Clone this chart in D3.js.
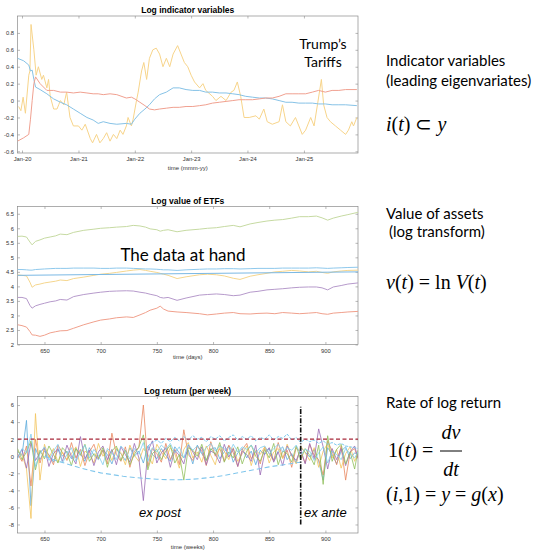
<!DOCTYPE html>
<meta charset="utf-8">
<script src="https://d3js.org/d3.v7.min.js"></script>
<style>
  body { margin: 0; background: #fff; }
</style>
<div id="fig"></div>
<script>

// ---------- data: log indicator variables (decimal years) ----------
const yellowYears = [2019.94, 2019.98, 2020.02, 2020.06, 2020.12, 2020.14, 2020.16, 2020.21, 2020.25, 2020.29,
  2020.35, 2020.38, 2020.44, 2020.47, 2020.50, 2020.56, 2020.62, 2020.65, 2020.68, 2020.74,
  2020.79, 2020.85, 2020.91, 2021.00, 2021.06, 2021.12, 2021.21, 2021.25, 2021.32, 2021.38,
  2021.44, 2021.50, 2021.56, 2021.62, 2021.68, 2021.74, 2021.79, 2021.85, 2021.88, 2021.94,
  2021.97, 2022.03, 2022.06, 2022.12, 2022.16, 2022.21, 2022.26, 2022.32, 2022.38, 2022.44,
  2022.50, 2022.56, 2022.62, 2022.68, 2022.76, 2022.82, 2022.88, 2022.94, 2023.00, 2023.06,
  2023.15, 2023.21, 2023.26, 2023.38, 2023.44, 2023.53, 2023.62, 2023.71, 2023.76, 2023.82,
  2023.88, 2023.94, 2024.03, 2024.15, 2024.21, 2024.29, 2024.35, 2024.44, 2024.56, 2024.62,
  2024.68, 2024.76, 2024.85, 2024.91, 2024.97, 2025.03, 2025.12, 2025.18, 2025.24, 2025.31,
  2025.35, 2025.41, 2025.47, 2025.56, 2025.65, 2025.74, 2025.79, 2025.85, 2025.88, 2025.94]
const indicatorYellow = [-0.07, -0.12, 0.04, -0.15, 0.30, 0.35, 0.90, 0.60, 0.30, 0.40,
  0.25, 0.30, 0.15, 0.25, 0.05, -0.10, -0.10, -0.05, 0.00, -0.05,
  0.10, -0.20, -0.30, -0.30, -0.35, -0.28, -0.45, -0.50, -0.40, -0.50,
  -0.45, -0.38, -0.48, -0.40, -0.45, -0.35, -0.40, -0.30, -0.20, -0.30,
  -0.22, 0.00, 0.10, 0.35, 0.45, 0.25, 0.50, 0.60, 0.62, 0.55,
  0.40, 0.50, 0.40, 0.55, 0.65, 0.55, 0.45, 0.40, 0.30, 0.22,
  0.15, 0.20, 0.12, 0.05, 0.00, 0.05, 0.00, 0.10, 0.12, 0.22,
  0.05, -0.20, -0.20, -0.18, -0.22, -0.10, -0.25, -0.28, -0.25, -0.05,
  -0.25, -0.30, -0.20, -0.30, -0.40, -0.35, -0.20, -0.30, -0.05, 0.25,
  -0.05, -0.20, -0.25, -0.30, -0.35, -0.40, -0.35, -0.25, -0.30, -0.20]

const indicatorYears = [2019.92, 2020.03, 2020.12, 2020.15, 2020.18, 2020.21, 2020.24, 2020.32, 2020.44, 2020.56,
  2020.68, 2020.79, 2020.91, 2021.03, 2021.15, 2021.26, 2021.35, 2021.44, 2021.56, 2021.68,
  2021.85, 2021.94, 2022.00, 2022.09, 2022.18, 2022.26, 2022.35, 2022.44, 2022.56, 2022.68,
  2022.79, 2022.91, 2023.03, 2023.15, 2023.26, 2023.38, 2023.50, 2023.62, 2023.74, 2023.85,
  2023.97, 2024.09, 2024.21, 2024.32, 2024.44, 2024.56, 2024.68, 2024.79, 2024.91, 2025.03,
  2025.15, 2025.26, 2025.38, 2025.50, 2025.62, 2025.74, 2025.94]
const indicatorBlue = [0.50, 0.47, 0.42, 0.35, 0.36, 0.25, 0.16, 0.13, 0.08, 0.02,
  -0.02, -0.05, -0.10, -0.15, -0.20, -0.23, -0.27, -0.25, -0.27, -0.28,
  -0.27, -0.28, -0.22, -0.15, -0.10, -0.05, 0.02, 0.07, 0.10, 0.15,
  0.15, 0.13, 0.12, 0.12, 0.10, 0.10, 0.09, 0.09, 0.08, 0.07,
  0.05, 0.04, 0.03, 0.03, 0.02, 0.00, -0.02, -0.02, -0.03, -0.03,
  -0.03, -0.04, -0.04, -0.05, -0.05, -0.05, -0.06]
const indicatorRed = [-0.48, -0.44, -0.40, -0.22, 0.00, 0.20, 0.28, 0.20, 0.12, 0.12,
  0.10, 0.10, 0.09, 0.10, 0.09, 0.08, 0.08, 0.07, 0.08, 0.07,
  0.03, 0.04, 0.02, -0.02, -0.06, -0.10, -0.11, -0.10, -0.09, -0.08,
  -0.08, -0.07, -0.07, -0.06, -0.05, -0.03, -0.02, -0.01, 0.00, 0.01,
  0.01, 0.01, 0.02, 0.03, 0.03, 0.05, 0.08, 0.08, 0.08, 0.08,
  0.10, 0.12, 0.10, 0.12, 0.12, 0.13, 0.13]

const indicatorTickYears = [2020, 2021, 2022, 2023, 2024, 2025]
const indicatorYTicks = [-0.6, -0.4, -0.2, 0, 0.2, 0.4, 0.6, 0.8]

// ---------- data: log value of ETFs (days) ----------
const etfDays = [626, 630, 634, 637, 639, 642, 646, 650, 655, 660, 664, 670, 676, 685, 694, 700, 708, 714, 723, 729,
  735, 740, 744, 750, 753, 756, 760, 768, 776, 788, 795, 803, 810, 818, 824, 833, 840, 848, 855, 862,
  870, 877, 885, 892, 897, 902, 907, 914, 920, 929]
const etfGreen = [5.72, 5.73, 5.70, 5.53, 5.43, 5.55, 5.60, 5.66, 5.70, 5.74, 5.80, 5.78, 5.86, 5.93, 5.97, 6.00, 6.02, 6.04, 6.06, 6.10,
  6.08, 6.04, 5.98, 5.95, 5.90, 5.93, 5.95, 5.88, 5.93, 5.97, 6.00, 6.02, 6.06, 6.10, 6.05, 6.15, 6.20, 6.25, 6.28, 6.30,
  6.35, 6.40, 6.40, 6.42, 6.36, 6.28, 6.35, 6.42, 6.47, 6.55]
const etfYellow = [4.40, 4.38, 4.36, 4.15, 3.97, 4.05, 4.08, 4.12, 4.15, 4.18, 4.22, 4.20, 4.27, 4.32, 4.38, 4.42, 4.45, 4.48, 4.53, 4.56,
  4.58, 4.55, 4.52, 4.48, 4.45, 4.42, 4.38, 4.27, 4.33, 4.40, 4.42, 4.40, 4.36, 4.28, 4.24, 4.35, 4.40, 4.45, 4.50, 4.52,
  4.55, 4.53, 4.50, 4.52, 4.48, 4.45, 4.50, 4.53, 4.55, 4.56]
const etfBlue = [4.58, 4.58, 4.57, 4.56, 4.56, 4.58, 4.59, 4.60, 4.61, 4.62, 4.62, 4.62, 4.63, 4.63, 4.63, 4.62, 4.62, 4.63, 4.63, 4.62,
  4.61, 4.60, 4.60, 4.59, 4.58, 4.57, 4.57, 4.55, 4.57, 4.59, 4.60, 4.60, 4.61, 4.61, 4.60, 4.61, 4.62, 4.62, 4.62, 4.63,
  4.63, 4.63, 4.63, 4.64, 4.63, 4.62, 4.63, 4.64, 4.65, 4.66]
const etfPurple = [3.62, 3.62, 3.58, 3.35, 3.25, 3.33, 3.38, 3.42, 3.47, 3.50, 3.55, 3.53, 3.65, 3.72, 3.77, 3.80, 3.83, 3.84, 3.85, 3.84,
  3.80, 3.77, 3.73, 3.68, 3.62, 3.60, 3.62, 3.52, 3.60, 3.70, 3.72, 3.74, 3.72, 3.68, 3.70, 3.80, 3.83, 3.88, 3.90, 3.92,
  3.95, 3.97, 3.98, 3.98, 3.95, 3.88, 3.98, 4.03, 4.08, 4.12]
const etfRed = [2.68, 2.65, 2.60, 2.45, 2.33, 2.32, 2.28, 2.32, 2.40, 2.44, 2.47, 2.48, 2.56, 2.68, 2.78, 2.84, 2.88, 2.92, 2.95, 2.93,
  3.02, 3.10, 3.18, 3.25, 3.32, 3.22, 3.15, 3.12, 3.10, 3.06, 3.02, 3.05, 3.08, 3.10, 3.06, 3.05, 3.07, 3.08, 3.06, 3.10,
  3.08, 3.06, 3.08, 3.10, 3.06, 3.04, 3.08, 3.10, 3.12, 3.14]
const benchmarkDays = [626, 929]
const etfBenchmark = [4.38, 4.50]

const dayTicks = [650, 700, 750, 800, 850, 900]
const etfYTicks = [2, 2.5, 3, 3.5, 4, 4.5, 5, 5.5, 6, 6.5]

// ---------- data: log return per week ----------
const returnWeeks = [626, 630, 634, 638, 642, 646, 650, 654, 658, 662, 666,
  670, 674, 678, 682, 686, 690, 694, 698, 702, 706, 710,
  714, 718, 722, 726, 730, 734, 738, 742, 746, 750, 754,
  758, 762, 766, 770, 774, 778, 782, 786, 790, 794, 798,
  802, 806, 810, 814, 818, 822, 826, 830, 834, 838, 842,
  846, 850, 854, 858, 862, 866, 870, 874, 878, 882, 886,
  890, 894, 898, 902, 906, 910, 914, 918, 922, 926, 929]
const returnOrange = [0.3, -0.6, 1.2, -3.5, 2.0, -0.8, 0.9, 0.1, -1.0, 1.3, 0.4,
  -0.5, 1.6, -0.2, 0.8, -1.1, 0.5, 1.4, -0.3, 0.7, -0.9, 2.7,
  0.2, -0.6, 1.1, -1.3, 0.6, 1.0, 6.0, -1.2, 0.9, 0.3, -0.7,
  1.5, -0.4, 0.8, -1.0, 3.1, 0.2, -0.5, 1.2, 0.6, -1.1, 1.7,
  0.0, 0.9, -0.6, 1.3, 0.4, -1.2, 0.8, 1.5, -0.3, 0.6, -0.9,
  1.1, 0.3, -0.5, 1.6, -0.2, 0.7, -1.3, 1.0, 0.4, -0.8, 1.4,
  0.1, -0.4, -2.2, 1.8, 0.6, -1.0, 1.2, -2.8, 0.5, 0.9, -0.3]
const returnYellow = [0.6, 0.2, -1.5, -7.3, 5.0, -2.8, 1.4, -0.2, 0.9, -0.7, 0.5,
  -0.4, 0.3, 1.1, -1.2, 0.6, 0.2, -0.8, 1.5, 0.0, 0.7, -0.5,
  1.0, 0.4, -1.0, 1.3, 0.1, -0.6, 0.9, 0.2, -0.9, 1.4, 0.5,
  -0.3, 1.0, 0.3, -1.4, 0.8, 1.6, -0.2, 0.5, -0.7, 1.2, 0.1,
  -1.0, 1.3, 0.6, -0.4, 1.0, -0.6, 0.3, 1.2, -1.1, 0.7, 0.2,
  1.1, -0.8, 0.5, 0.9, -0.3, 1.4, 0.0, -0.9, 1.2, 0.4, -0.5,
  1.0, -1.3, 0.6, 1.5, -0.2, 0.8, -1.4, 0.3, 1.1, -0.6, 0.4]
const returnPurple = [-0.2, 0.8, -1.4, 1.6, -0.5, 0.4, 1.0, -1.2, 0.3, 0.9, -0.6,
  1.3, 0.0, -0.9, 2.3, -0.3, 0.7, -1.1, 0.5, 1.2, -0.4, 0.8,
  -1.0, 1.1, 0.2, -0.7, 1.5, -0.2, -5.2, 0.6, 1.8, -0.8, 0.4,
  1.0, -1.3, 0.7, 0.1, -0.9, 1.3, 0.5, -0.4, 1.1, -1.0, 0.6,
  0.3, -0.8, 1.4, -0.1, 0.9, -1.2, 0.6, 0.2, -0.6, 1.3, -2.2,
  0.4, 1.0, -0.7, 0.5, -1.1, 1.2, 0.1, -0.5, 0.8, -0.9, 1.5,
  -0.3, 3.2, 1.1, -1.5, 0.9, -0.4, 0.9, -1.1, 0.5, 1.2, -0.2]
const returnGreen = [0.9, -0.4, 0.5, 1.8, -1.6, 0.7, -0.3, 1.2, 0.2, -0.8, 1.0,
  0.4, -1.1, 0.9, 0.1, 1.4, -0.6, 0.3, -0.2, 1.0, -1.3, 0.6,
  1.2, -0.5, 0.7, -1.0, 0.2, 1.1, 2.5, -1.6, 0.3, 0.8, -0.4,
  0.6, 1.3, -0.8, 0.2, -2.8, 1.0, 0.7, 0.0, 1.4, -0.5, 0.9,
  0.2, 1.6, -0.7, 0.5, -0.2, 1.1, -0.9, 0.6, 1.3, 0.0, -0.6,
  0.8, -0.2, 1.5, -1.0, 0.6, 0.3, -0.7, 1.2, -0.4, 0.9, 0.1,
  -1.0, 1.3, -3.3, 2.4, -0.6, 0.8, 1.4, -0.9, 0.5, -1.5, 0.7]
const returnBlue = [0.5, 0.1, 4.2, -5.8, 0.9, -0.4, 0.6, 0.2, -0.7, 0.8, 0.0,
  0.6, -0.3, 0.9, 0.3, -0.6, 1.0, 0.1, -0.4, 0.7, 0.2, -0.9,
  0.8, 0.3, -0.5, 1.0, 0.0, 0.6, -0.8, 1.2, 0.2, -0.3, 0.9,
  0.1, -0.6, 1.1, 0.4, -0.2, 0.7, -0.9, 1.3, 0.3, -0.5, 0.8,
  1.0, -0.3, 0.5, 1.2, -0.7, 0.4, 0.9, -0.2, 0.6, -1.0, 0.7,
  0.2, 0.9, -0.5, 0.6, 1.1, -0.4, 0.3, -0.8, 1.0, 0.5, -0.1,
  0.8, -0.6, -2.8, 1.0, 0.2, -0.9, 0.6, 1.1, -0.3, 0.4, 0.2]
const returnCyan = [-0.3, 0.9, 0.4, 2.6, -1.2, 0.3, 1.1, -0.5, 0.6, 1.4, -0.8,
  0.2, 1.0, -0.6, 0.5, 1.3, -0.2, 0.8, 0.1, -1.0, 0.9, 0.4,
  -0.4, 1.2, 0.6, -0.3, 0.9, 0.3, 1.6, -0.6, 1.0, 0.5, 1.3,
  0.8, 1.5, 0.4, 1.1, -0.2, 1.4, 0.7, 1.2, 0.3, 1.0, 1.5,
  0.6, 1.2, 0.9, 0.2, 1.4, 0.5, 1.1, 0.8, 1.3, 0.4, 1.0,
  1.2, 0.3, 0.9, 1.4, 0.5, 1.0, 0.7, 1.3, 0.2, 0.8, 0.6,
  -0.5, 0.4, 1.1, -0.8, 0.6, 0.2, -0.4, 0.9, 0.3, -0.2, 0.5]

const upperWeeks = [742, 746, 750, 754, 758, 762, 766, 770, 774, 778, 782, 786, 790, 794, 798, 802,
  806, 810, 814, 818, 822, 826, 830, 834, 838, 842, 846, 850, 854, 858, 862, 866,
  870, 874, 878, 882, 886, 890, 894, 898, 902, 906, 910, 914, 918, 922, 926, 929]
const upperBound = [1.2, 1.6, 1.9, 1.5, 2.1, 1.7, 2.2, 1.8, 2.3, 1.9, 2.4, 2.0, 2.2, 1.7, 2.3, 2.0,
  2.4, 1.8, 2.2, 2.5, 1.9, 2.3, 2.0, 2.4, 1.8, 2.2, 2.0, 2.5, 1.9, 2.3, 2.1, 2.6,
  1.9, 2.2, 1.6, 2.0, 1.7, 1.9, 1.5, 1.8, 1.4, 1.6, 1.3, 1.5, 1.2, 1.1, 1.0, 0.9]
const lowerWeeks = [650, 660, 670, 680, 690, 700, 710, 720, 730, 740, 750, 760,
  770, 780, 790, 800, 810, 820, 830, 840, 850, 860, 870, 878]
const lowerBound = [0.0, -0.5, -0.9, -1.3, -1.65, -1.95, -2.15, -2.35, -2.5, -2.6, -2.7, -2.75,
  -2.75, -2.72, -2.6, -2.45, -2.25, -2.0, -1.75, -1.5, -1.25, -1.05, -0.85, -0.7]

const threshold = 2
const splitWeek = 878
const splitRange = [-8, 5.8]
const returnYTicks = [-8, -6, -4, -2, 0, 2, 4, 6]

// ---------- layout ----------
const W = 550, H = 559
const sans = "'Liberation Sans', Arial, sans-serif"
const body = "Lato, 'Open Sans', sans-serif"
const serif = "'Liberation Serif', 'Times New Roman', serif"

const svg = d3.select("#fig").append("svg")
    .attr("width", W)
    .attr("height", H)
    .style("background", "#fff")

function yearToDate(y) {
    const yr = Math.floor(y)
    const a = Date.UTC(yr, 0, 1), b = Date.UTC(yr + 1, 0, 1)
    return new Date(a + (y - yr) * (b - a))
}

var clipCount = 0

// one MATLAB-style axes box with inward ticks on all four sides
function panel(box, x, y, xTicks, xFmt, yTicks, title, xlabel, xlabelGap) {
    x.range([box.left, box.right])
    y.range([box.bottom, box.top])
    const g = svg.append("g")

    const id = "clip" + (clipCount++)
    svg.append("clipPath").attr("id", id)
      .append("rect")
        .attr("x", box.left).attr("y", box.top)
        .attr("width", box.right - box.left).attr("height", box.bottom - box.top)

    const style = a => a
        .call(s => s.select(".domain").remove())
        .call(s => s.selectAll("line").attr("stroke", "#8a8a8a").attr("stroke-width", 0.6))
        .call(s => s.selectAll("text").attr("fill", "#333").style("font", "5.8px " + sans))

    g.append("g").attr("transform", `translate(0,${box.bottom})`)
      .call(d3.axisBottom(x).tickValues(xTicks).tickFormat(xFmt).tickSize(-2.5).tickPadding(4))
      .call(style)
    g.append("g").attr("transform", `translate(0,${box.top})`)
      .call(d3.axisTop(x).tickValues(xTicks).tickFormat("").tickSize(-2.5))
      .call(style)
    g.append("g").attr("transform", `translate(${box.left},0)`)
      .call(d3.axisLeft(y).tickValues(yTicks).tickFormat(d => String(d)).tickSize(-2.5).tickPadding(3.5))
      .call(style)
    g.append("g").attr("transform", `translate(${box.right},0)`)
      .call(d3.axisRight(y).tickValues(yTicks).tickFormat("").tickSize(-2.5))
      .call(style)

    g.append("rect")
        .attr("x", box.left).attr("y", box.top)
        .attr("width", box.right - box.left).attr("height", box.bottom - box.top)
        .attr("fill", "none").attr("stroke", "#8a8a8a").attr("stroke-width", 0.7)

    svg.append("text")
        .attr("x", (box.left + box.right) / 2).attr("y", box.top - 3)
        .attr("text-anchor", "middle")
        .style("font", "bold 8.5px " + sans)
        .text(title)
    svg.append("text")
        .attr("x", (box.left + box.right) / 2).attr("y", box.bottom + xlabelGap)
        .attr("text-anchor", "middle")
        .attr("fill", "#333")
        .style("font", "6px " + sans)
        .text(xlabel)

    return svg.append("g").attr("clip-path", `url(#${id})`)
}

function addLine(layer, xs, ys, x, y, color, width, dash) {
    const pts = xs.map((d, i) => [d, ys[i]])
    layer.append("path")
        .datum(pts)
        .attr("fill", "none")
        .attr("stroke", color)
        .attr("stroke-width", width)
        .attr("stroke-linejoin", "round")
        .attr("stroke-dasharray", dash || null)
        .attr("d", d3.line().x(d => x(d[0])).y(d => y(d[1])))
}

// ---------- panel 1 ----------
const x1 = d3.scaleUtc().domain([yearToDate(2019.92), yearToDate(2025.96)])
const y1 = d3.scaleLinear().domain([-0.62, 1.0])
const L1 = panel({left: 17.5, right: 358, top: 16, bottom: 153}, x1, y1,
    indicatorTickYears.map(yearToDate), d3.utcFormat("%b-%y"), indicatorYTicks,
    "Log indicator variables", "time (mmm-yy)", 17)
const x1d = d => x1(yearToDate(d))
addLine(L1, yellowYears, indicatorYellow, x1d, y1, "#f7d48a", 1)
addLine(L1, indicatorYears, indicatorBlue, x1d, y1, "#86c2e6", 1)
addLine(L1, indicatorYears, indicatorRed, x1d, y1, "#f0a090", 1)

// ---------- panel 2 ----------
const x2 = d3.scaleLinear().domain([626, 929])
const y2 = d3.scaleLinear().domain([2, 6.75])
const L2 = panel({left: 17.5, right: 358, top: 206.5, bottom: 344.5}, x2, y2,
    dayTicks, d => String(d), etfYTicks, "Log value of ETFs", "time (days)", 14.5)
addLine(L2, etfDays, etfGreen, x2, y2, "#c6daa2", 1)
addLine(L2, etfDays, etfYellow, x2, y2, "#f5d68e", 1)
addLine(L2, etfDays, etfBlue, x2, y2, "#8ec8ec", 1)
addLine(L2, benchmarkDays, etfBenchmark, x2, y2, "#7ab8e4", 1)
addLine(L2, etfDays, etfPurple, x2, y2, "#b69acb", 1)
addLine(L2, etfDays, etfRed, x2, y2, "#f0a08c", 1)

// ---------- panel 3 ----------
const x3 = d3.scaleLinear().domain([626, 929])
const y3 = d3.scaleLinear().domain([-9, 7])
const L3 = panel({left: 17.5, right: 358, top: 396.5, bottom: 533}, x3, y3,
    dayTicks, d => String(d), returnYTicks, "Log return (per week)", "time (weeks)", 16)
addLine(L3, returnWeeks, returnBlue, x3, y3, "#5cabdc", 0.8)
addLine(L3, returnWeeks, returnOrange, x3, y3, "#e8875e", 0.8)
addLine(L3, returnWeeks, returnYellow, x3, y3, "#f2c45c", 0.8)
addLine(L3, returnWeeks, returnPurple, x3, y3, "#9a6bb5", 0.8)
addLine(L3, returnWeeks, returnGreen, x3, y3, "#8fbf5a", 0.8)
addLine(L3, returnWeeks, returnCyan, x3, y3, "#7fcdee", 0.8)
addLine(L3, upperWeeks, upperBound, x3, y3, "#6ec3ec", 0.9, "3,1.2")
addLine(L3, lowerWeeks, lowerBound, x3, y3, "#80c6ec", 1.1, "5,3")
addLine(L3, [626, 929], [threshold, threshold], x3, y3, "#a8283a", 1.2, "4,2.5")
addLine(L3, [splitWeek, splitWeek], splitRange, x3, y3, "#111", 1.6, "5,1.5,1.2,1.5")

// ---------- annotations inside the panels ----------
svg.append("text").attr("x", 323).attr("y", 48.5).attr("text-anchor", "middle")
    .style("font", "14px " + body).text("Trump\u2019s")
svg.append("text").attr("x", 323).attr("y", 67).attr("text-anchor", "middle")
    .style("font", "14px " + body).text("Tariffs")
svg.append("text").attr("x", 183).attr("y", 261).attr("text-anchor", "middle")
    .style("font", "17px " + body).text("The data at hand")
svg.append("text").attr("x", 139).attr("y", 517)
    .style("font", "italic 13px " + sans).text("ex post")
svg.append("text").attr("x", 304).attr("y", 517)
    .style("font", "italic 13px " + sans).text("ex ante")

// ---------- right-hand descriptions ----------
const notes = [
    {x: 386, y: 66, t: "Indicator variables"},
    {x: 386, y: 85.5, t: "(leading eigenvariates)"},
    {x: 386, y: 218.5, t: "Value of assets"},
    {x: 389, y: 237, t: "(log transform)"},
    {x: 386, y: 408, t: "Rate of log return"}
]
svg.selectAll("text.note").data(notes).enter().append("text")
    .attr("class", "note")
    .attr("x", d => d.x).attr("y", d => d.y)
    .style("font", "15px " + body)
    .text(d => d.t)

// equation pieces: [text, italic?]
function equation(x, y, parts, size) {
    const t = svg.append("text").attr("x", x).attr("y", y)
        .style("font-family", serif).style("font-size", size + "px")
    parts.forEach(p => t.append("tspan").style("font-style", p[1] ? "italic" : "normal").text(p[0]))
    return t
}
equation(386, 131, [["i", 1], ["(", 0], ["t", 1], [")", 0], [" \u2282 ", 0], ["y", 1]], 20)
equation(386, 289, [["v", 1], ["(", 0], ["t", 1], [")", 0], [" = ln ", 0], ["V", 1], ["(", 0], ["t", 1], [")", 0]], 20)
equation(388, 457, [["1", 0], ["(", 0], ["t", 1], [") =", 0]], 20)
equation(451, 438.5, [["dv", 1]], 20).attr("text-anchor", "middle")
equation(451, 476, [["dt", 1]], 20).attr("text-anchor", "middle")
svg.append("line").attr("x1", 440).attr("x2", 462).attr("y1", 451).attr("y2", 451)
    .attr("stroke", "#000").attr("stroke-width", 1)
equation(386, 501, [["(", 0], ["i", 1], [",1) = ", 0], ["y", 1], [" = ", 0], ["g", 1], ["(", 0], ["x", 1], [")", 0]], 20)

</script>
